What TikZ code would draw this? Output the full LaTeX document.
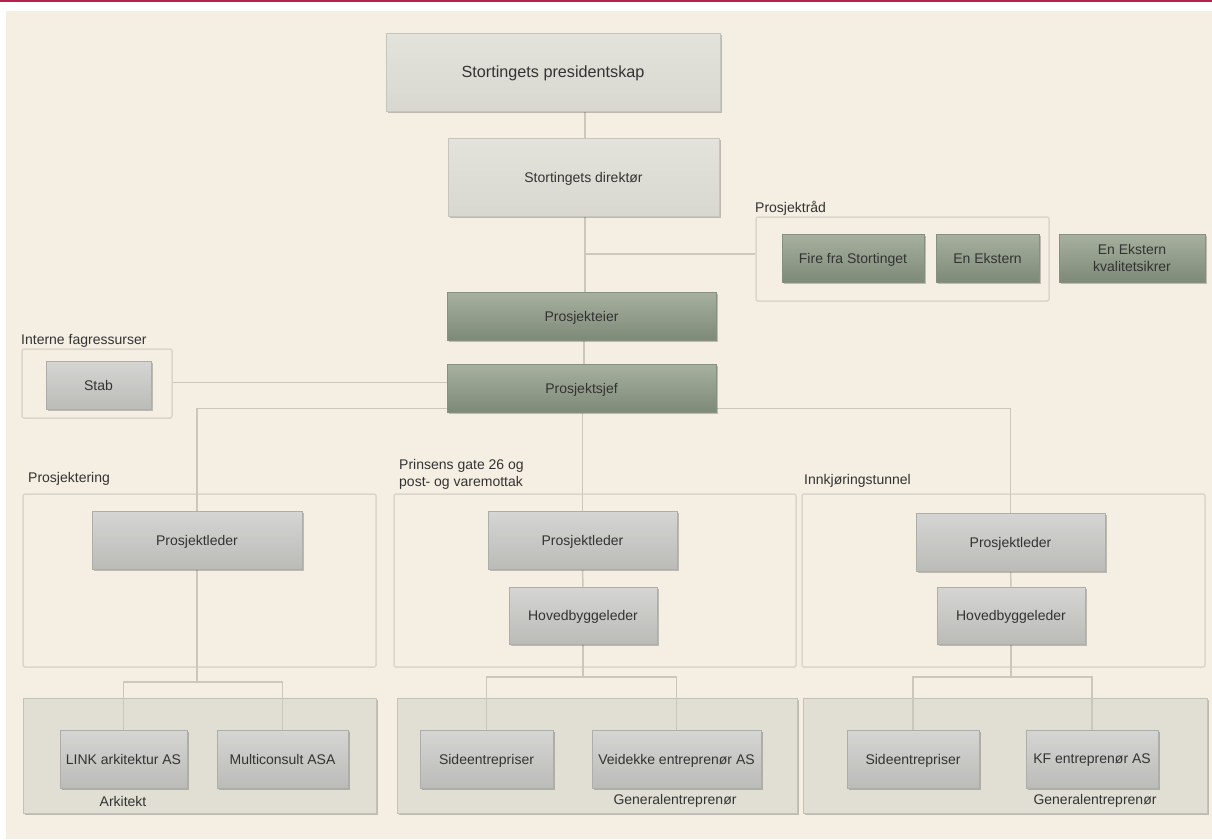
\documentclass[tikz,border=0pt]{standalone}
\usepackage{fontspec}
\setmainfont{Liberation Sans}
\usetikzlibrary{shadows}
\definecolor{pagebg}{HTML}{F5EFE3}
\definecolor{topline}{HTML}{B81E4E}
\definecolor{txt}{HTML}{333333}
\definecolor{wire}{HTML}{CCC7BB}
\definecolor{framec}{HTML}{DAD6CB}
\definecolor{panelfill}{HTML}{E1DED3}
\definecolor{panelline}{HTML}{C4C1B6}
\definecolor{paleA}{HTML}{E3E2DB}
\definecolor{paleB}{HTML}{D9D8D0}
\definecolor{paleline}{HTML}{C6C5BD}
\definecolor{greenA}{HTML}{A8B09F}
\definecolor{greenB}{HTML}{7D8A77}
\definecolor{greenline}{HTML}{87907F}
\definecolor{greyA}{HTML}{D5D5D3}
\definecolor{greyB}{HTML}{BBBBB8}
\definecolor{greyline}{HTML}{ADADA9}
\pgfdeclarelayer{ground}
\pgfdeclarelayer{back}
\pgfdeclarelayer{mid}
\pgfsetlayers{ground,back,mid,main}
\tikzset{
  boxtext/.style={text=txt, font=\fontsize{14}{17}\selectfont, align=center, inner sep=0pt, text depth=0pt},
  shade/.style={drop shadow={shadow xshift=1.6pt, shadow yshift=-1.8pt, fill=black, opacity=0.22}},
  palebox/.style={boxtext, shade, draw=paleline, line width=0.8pt, top color=paleA, bottom color=paleB},
  greenbox/.style={boxtext, shade, draw=greenline, line width=0.8pt, top color=greenA, bottom color=greenB, text=black!80},
  greybox/.style={boxtext, shade, draw=greyline, line width=0.8pt, top color=greyA, bottom color=greyB},
  groupframe/.style={draw=framec, line width=1.5pt, rounded corners=2pt, inner sep=0pt},
  panel/.style={shade, draw=panelline, line width=0.8pt, fill=panelfill, inner sep=0pt},
  wirestyle/.style={draw=wire, line width=1.5pt},
  caption/.style={text=txt, font=\fontsize{14}{17}\selectfont, inner sep=0pt, align=left}
}
\begin{document}
\begin{tikzpicture}[x=1pt, y=-1pt]
\useasboundingbox (0,0) rectangle (1212,839);
% page ground
\begin{pgfonlayer}{ground}
\fill[white] (0,0) rectangle (1212,839);
\fill[topline] (0,0) rectangle (1212,2.2);
\fill[pagebg] (6,11) rectangle (1212,839);
\end{pgfonlayer}

% top of the hierarchy
\node[palebox, font=\fontsize{16.2}{19}\selectfont, minimum width=334pt, minimum height=78pt] (pres) at (553,72) {Stortingets presidentskap};
\node[palebox, minimum width=271pt, minimum height=78pt] (dir) at (583.5,177) {Stortingets direktør};
\node[greenbox, minimum width=269pt, minimum height=48pt] (eier) at (581.5,316) {Prosjekteier};
\node[greenbox, minimum width=269pt, minimum height=48pt] (sjef) at (581.5,388) {Prosjektsjef};

% project council
\node[caption, anchor=west] (raadlbl) at (755,208) {Prosjektråd};
\begin{pgfonlayer}{back}
\node[groupframe, minimum width=293pt, minimum height=84pt] (raad) at (902.5,259) {};
\end{pgfonlayer}
\node[greenbox, minimum width=142pt, minimum height=48pt] (fire) at (853,258) {Fire fra Stortinget};
\node[greenbox, minimum width=103pt, minimum height=48pt] (ekst) at (987.5,258) {En Ekstern};
\node[greenbox, minimum width=146pt, minimum height=48pt] (kval) at (1132,258) {En Ekstern\\kvalitetsikrer};

% internal staff
\node[caption, anchor=west] (intlbl) at (21,341) {Interne fagressurser};
\begin{pgfonlayer}{back}
\node[groupframe, minimum width=150pt, minimum height=69pt] (intern) at (97,383.5) {};
\end{pgfonlayer}
\node[greybox, minimum width=105pt, minimum height=48pt] (stab) at (98.5,385) {Stab};

% project groups
\node[caption, anchor=west] (prolbl) at (28,479) {Prosjektering};
\node[caption, anchor=west] (pglbl) at (399,474.5) {Prinsens gate 26 og\\post- og varemottak};
\node[caption, anchor=west] (tunlbl) at (804,481) {Innkjøringstunnel};
\begin{pgfonlayer}{back}
\node[groupframe, minimum width=353pt, minimum height=173pt] (fr1) at (199.5,580.5) {};
\node[groupframe, minimum width=402pt, minimum height=173pt] (fr2) at (595,580.5) {};
\node[groupframe, minimum width=403pt, minimum height=173pt] (fr3) at (1003.5,580.5) {};
\node[panel, minimum width=353pt, minimum height=115pt] (pan1) at (199.5,755.5) {};
\node[panel, minimum width=400pt, minimum height=115pt] (pan2) at (597,755.5) {};
\node[panel, minimum width=404pt, minimum height=115pt] (pan3) at (1005,755.5) {};
\end{pgfonlayer}

\node[greybox, minimum width=210pt, minimum height=58pt] (pl1) at (197,540) {Prosjektleder};
\node[greybox, minimum width=189pt, minimum height=58pt] (pl2) at (582.5,540) {Prosjektleder};
\node[greybox, minimum width=189pt, minimum height=58pt] (pl3) at (1010.5,542) {Prosjektleder};
\node[greybox, minimum width=148pt, minimum height=57pt] (hb2) at (583,615.5) {Hovedbyggeleder};
\node[greybox, minimum width=148pt, minimum height=57pt] (hb3) at (1011,615.5) {Hovedbyggeleder};

\node[greybox, minimum width=127pt, minimum height=58pt] (link) at (123.5,759) {LINK arkitektur AS};
\node[greybox, minimum width=131pt, minimum height=58pt] (multi) at (282.5,759) {Multiconsult ASA};
\node[greybox, minimum width=133pt, minimum height=58pt] (side2) at (486.5,759) {Sideentrepriser};
\node[greybox, minimum width=169pt, minimum height=58pt] (veid) at (676.5,759) {Veidekke entreprenør AS};
\node[greybox, minimum width=132pt, minimum height=58pt] (side3) at (913,759) {Sideentrepriser};
\node[greybox, minimum width=132pt, minimum height=58pt] (kf) at (1092,759) {KF entreprenør AS};

\node[caption] (ark) at (123,801) {Arkitekt};
\node[caption] (ge2) at (675,801) {Generalentreprenør};
\node[caption] (ge3) at (1095,801) {Generalentreprenør};

% branch points of the lower trees
\coordinate (b1) at (197,682);
\coordinate (b2) at (583,677);
\coordinate (b3) at (1011,677);

% connectors
\begin{pgfonlayer}{mid}
\draw[wirestyle] (dir.north -| 585,0) -- (pres.south -| 585,0);
\draw[wirestyle] (dir.south -| 585,0) -- (eier.north -| 585,0);
\draw[wirestyle] ([yshift=5pt]raad.west) -- ([yshift=5pt]raad.west -| 585,0);
\draw[wirestyle] (eier.south -| 584,0) -- (sjef.north -| 584,0);
\draw[wirestyle] ([yshift=1pt]intern.east) -- ([yshift=1pt]intern.east -| sjef.west);
\draw[wirestyle] (pl1.north) |- ([yshift=4pt]sjef.south) -| (pl3.north);
\draw[wirestyle] (sjef.south -| pl2.north) -- (pl2.north);
\draw[wirestyle] (pl1.south) -- (b1);
\draw[wirestyle] (link.north) |- (b1) -| (multi.north);
\draw[wirestyle] (pl2.south) -- (hb2.north);
\draw[wirestyle] (hb2.south) -- (b2);
\draw[wirestyle] (side2.north) |- (b2) -| (veid.north);
\draw[wirestyle] (pl3.south) -- (hb3.north);
\draw[wirestyle] (hb3.south) -- (b3);
\draw[wirestyle] (side3.north) |- (b3) -| (kf.north);
\end{pgfonlayer}
\end{tikzpicture}
\end{document}
